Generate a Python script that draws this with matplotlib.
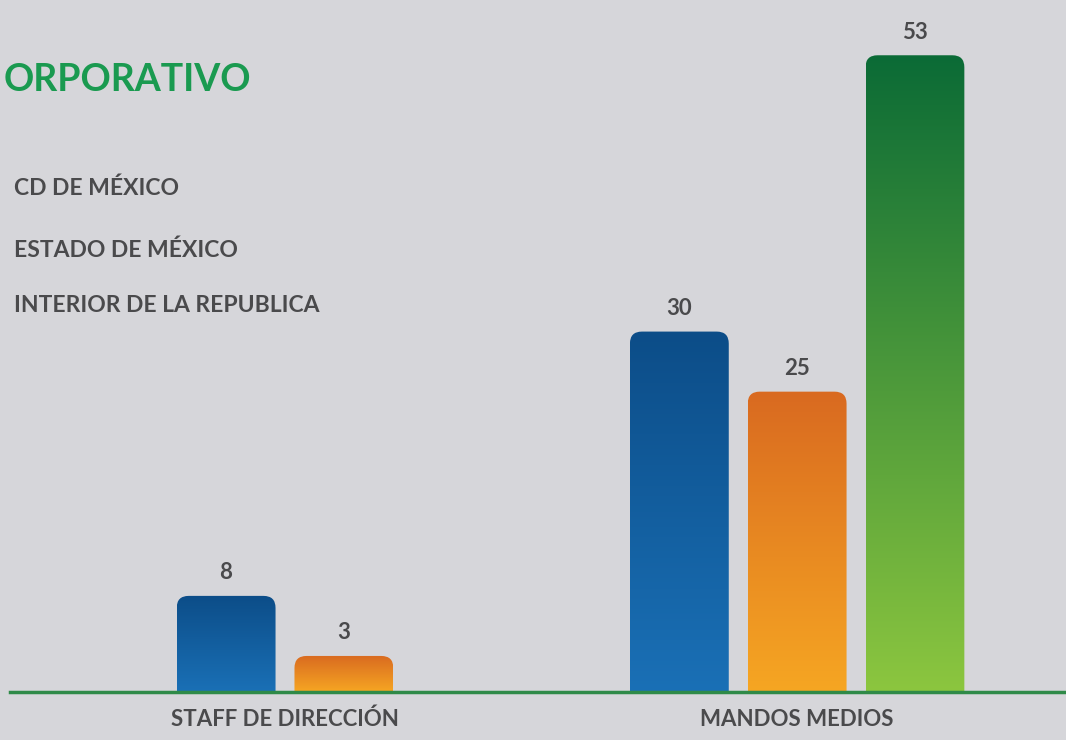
"""
Headcount by level and region — grouped bars with gradient fills.
"""
import matplotlib
matplotlib.use("Agg")
import matplotlib.pyplot as plt
import numpy as np
from matplotlib.colors import LinearSegmentedColormap
from matplotlib.patches import FancyBboxPatch

categories = ["STAFF DE DIRECCIÓN", "MANDOS MEDIOS"]
regions = ["CD DE MÉXICO", "ESTADO DE MÉXICO", "INTERIOR DE LA REPUBLICA"]
# one list per category, values per region (missing region left out)
staff_values = [8, 3]
mandos_values = [30, 25, 53]
title = "ORPORATIVO"

BG = "#d6d6da"
TEXT = "#4a4a4c"
GRADIENTS = [
    ("#1a70b6", "#0c4d88"),   # blue: bottom, top
    ("#f6a623", "#d96a20"),   # orange
    ("#8cc63f", "#0b6b36"),   # green
]

W, H = 1066, 740
fig = plt.figure(figsize=(W / 100, H / 100), dpi=100)
fig.patch.set_facecolor(BG)
plt.rcParams["font.family"] = ["Lato", "DejaVu Sans"]

ax = fig.add_axes([10 / W, 48 / H, 1056 / W, 692 / H])
ax.set_facecolor(BG)
ax.set_xlim(-0.537, 1.525)
ax.set_ylim(0, 57.6)
for s in ax.spines.values():
    s.set_visible(False)
ax.set_yticks([])

step = 0.23
width = 0.193
groups = [staff_values, mandos_values]

# pixels per data unit, for round corners that look round on screen
xpx = ax.bbox.width / (ax.get_xlim()[1] - ax.get_xlim()[0])
ypx = ax.bbox.height / (ax.get_ylim()[1] - ax.get_ylim()[0])
r_x = 12 / xpx

for gi, vals in enumerate(groups):
    n = len(vals)
    offsets = (np.arange(n) - (n - 1) / 2) * step
    bars = ax.bar(gi + offsets, vals, width, color="none", edgecolor="none")
    for i, (bar, v) in enumerate(zip(bars, vals)):
        x0, w, h = bar.get_x(), bar.get_width(), bar.get_height()
        lo, hi = GRADIENTS[i]
        cmap = LinearSegmentedColormap.from_list(f"g{i}", [lo, hi])
        grad = np.linspace(0, 1, 256).reshape(-1, 1)
        im = ax.imshow(grad, extent=[x0, x0 + w, 0, h], origin="lower",
                       aspect="auto", cmap=cmap, zorder=2)
        clip = FancyBboxPatch((x0, -5), w, h + 5,
                              boxstyle=f"round,pad=0,rounding_size={r_x}",
                              mutation_aspect=xpx / ypx,
                              transform=ax.transData, facecolor="none",
                              edgecolor="none")
        ax.add_patch(clip)
        im.set_clip_path(clip)
        ax.annotate(f"{v}", (x0 + w / 2, h), xytext=(0, 9),
                    textcoords="offset points", ha="center", va="bottom",
                    fontsize=16, color=TEXT, fontweight="bold")

ax.set_xlim(-0.537, 1.525)
ax.set_ylim(0, 57.6)
ax.axhline(0, color="#2f8a48", linewidth=2.5, zorder=3, clip_on=False)

ax.set_xticks([0, 1])
ax.set_xticklabels(categories, fontsize=16, color=TEXT, fontweight="bold")
ax.tick_params(axis="x", length=0, pad=12)

fig.text(4 / W, 1 - 80 / H, title, fontsize=27, fontweight="bold",
         color="#1a9a50", va="center", ha="left")
for name, y in zip(regions, [188, 250, 306]):
    fig.text(14 / W, 1 - y / H, name, fontsize=16.5, fontweight="bold",
             color=TEXT, va="center", ha="left")

fig.savefig("out.png", dpi=100, facecolor=fig.get_facecolor())
